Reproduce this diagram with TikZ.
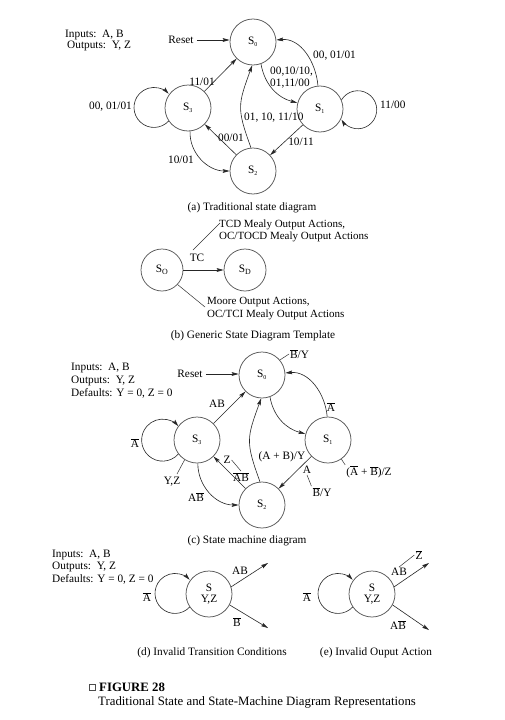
\documentclass[tikz,border=0pt]{standalone}
\usepackage{fontspec}
\setmainfont{Liberation Serif}
\usetikzlibrary{arrows.meta}
\newcommand{\olt}[1]{$\overline{\mbox{#1}}$}
\newcommand{\sst}[1]{S\textsubscript{\fontsize{6}{6}\selectfont#1}}
\begin{document}
\begin{tikzpicture}[x=1pt,y=1pt,
  every node/.style={font=\fontsize{11.3}{12.5}\selectfont, inner sep=1pt},
  st/.style={circle, draw=black!65, line width=0.75pt, minimum size=46pt, inner sep=0pt},
  sts/.style={st, minimum size=42pt},
  sv/.style={st, align=center, font=\fontsize{11.3}{11}\selectfont},
  arr/.style={draw=black!85, line width=0.6pt, -{Stealth[length=7pt,width=3.8pt,inset=1.3pt]}},
  ln/.style={draw=black!80, line width=0.5pt},
  two/.style={align=left, font=\fontsize{11.3}{11.5}\selectfont},
  blk/.style={align=left, font=\fontsize{11.3}{12.7}\selectfont},
]
\useasboundingbox (0,0) rectangle (504,-720);
\fill[white] (0,0) rectangle (504,-720);

% ---------------- (a) ----------------
\node[anchor=west] (inA) at (64,-35) {Inputs:\enspace A, B};
\node[anchor=west] (outA) at (66,-46) {Outputs:\enspace Y, Z};
\node[st] (s0a) at (253,-42) {\sst{0}};
\node[st] (s3a) at (188,-108) {\sst{3}};
\node[st] (s1a) at (320,-109) {\sst{1}};
\node[st] (s2a) at (253,-171) {\sst{2}};
\node[inner sep=3pt] (rsa) at (181,-40) {Reset};
\draw[arr] (rsa.east) -- (rsa.east -| s0a.west);
\draw[arr] (s1a.95) to[out=95,in=5] (s0a.5);
\node[anchor=west] (la1) at (312,-56) {00, 01/01};
\draw[arr] (s0a.-70) to[out=-80,in=165] (s1a.165);
\node[anchor=west,two] (la2) at (269,-77.5) {00,10/10,\\01,11/00};
\draw[arr] (s3a) -- (s0a);
\node (la3) at (202,-82) {11/01};
\draw[arr] (s2a.95) to[out=110,in=250,looseness=1.3] (s0a.268);
\node[anchor=west] (la4) at (243,-118) {01, 10, 11/10};
\draw[arr] (s2a) -- (s3a);
\node (la5) at (231,-138) {00/01};
\draw[arr] (s1a) -- (s2a);
\node (la6) at (301,-142) {10/11};
\draw[arr] (s3a.275) to[out=-92,in=180] (s2a.west);
\node (la7) at (181,-160) {10/01};
\draw[arr] (s3a.214) arc[start angle=-43,end angle=-317,radius=20];
\node[anchor=east] (la8) at (133,-107) {00, 01/01};
\draw[arr] (s1a.23) arc[start angle=148.7,end angle=-148.7,radius=19];
\node[anchor=west] (la9) at (379,-105) {11/00};
\node (capa) at (252,-208) {(a) Traditional state diagram};

% ---------------- (b) ----------------
\node[sts] (sob) at (162,-270) {S\textsubscript{O}};
\node[sts] (sdb) at (245,-270) {S\textsubscript{D}};
\draw[arr] (sob) -- (sdb);
\node (tcl) at (197,-258) {TC};
\coordinate (tc) at (193,-250);
\coordinate (mealyend) at (220,-223);
\node[anchor=west,align=left,font=\fontsize{11}{12}\selectfont] (mealy) at (218,-231) {TCD Mealy Output Actions,\\OC/TOCD Mealy Output Actions};
\draw[ln] (tc) -- (mealyend);
\coordinate (mooreend) at (205,-307);
\node[anchor=west,align=left,font=\fontsize{11}{13}\selectfont] (moore) at (206,-308.5) {Moore Output Actions,\\OC/TCI Mealy Output Actions};
\draw[ln] (sob.-43) -- (mooreend);
\node (capb) at (253,-336) {(b) Generic State Diagram Template};

% ---------------- (c) ----------------
\node[anchor=west,blk] (inC) at (70,-380.5) {Inputs:\enspace A, B\\Outputs:\enspace Y, Z\\Defaults: Y = 0, Z = 0};
\node[st] (s0c) at (262,-375) {\sst{0}};
\node[st] (s3c) at (197,-440) {\sst{3}};
\node[st] (s1c) at (328,-440) {\sst{1}};
\node[st] (s2c) at (262,-505) {\sst{2}};
\node[inner sep=3pt] (rsc) at (190,-374) {Reset};
\draw[arr] (rsc.east) -- (rsc.east -| s0c.west);
\node[anchor=west] (byc) at (289,-354) {\olt{B}/Y};
\draw[ln] (s0c.40) -- (byc.west);
\draw[arr] (s3c) -- (s0c);
\node (lc1) at (217,-404) {AB};
\draw[arr] (s1c.92) to[out=95,in=5] (s0c.5);
\node (lc2) at (331,-407) {\olt{A}};
\draw[arr] (s0c.-70) to[out=-80,in=165] (s1c.165);
\draw[arr] (s2c.95) to[out=110,in=250,looseness=1.3] (s0c.268);
\node (lc3) at (282,-457) {(A + B)/Y};
\draw[arr] (s2c) -- (s3c);
\node (zc) at (227,-460) {Z};
\node (abc) at (241,-477) {\olt{A}\olt{B}};
\draw[ln] (zc.east) -- (abc.north);
\draw[arr] (s1c) -- (s2c);
\node (ac) at (307,-470) {A};
\node (byc2) at (322,-492) {\olt{B}/Y};
\draw[ln] (ac.south) -- (byc2.north west);
\node (abz) at (369,-472) {(\olt{A} + \olt{B})/Z};
\draw[ln] (s1c.-55) -- (abz.north west);
\draw[arr] (s3c.217) arc[start angle=-41.6,end angle=-318.4,radius=21];
\node (lc4) at (135,-443) {\olt{A}};
\node (yzc) at (172,-482) {Y,Z};
\coordinate (yzt) at (177,-474);
\draw[ln] (s3c.238) -- (yzt);
\draw[arr] (s3c.272) to[out=-90,in=180] (s2c.west);
\node (lc5) at (196,-497) {A\olt{B}};
\node (capc) at (247,-541) {(c) State machine diagram};

% ---------------- (d) ----------------
\node[anchor=west,blk] (inD) at (51,-567) {Inputs:\enspace A, B\\Outputs:\enspace Y, Z\\Defaults: Y = 0, Z = 0};
\node[sv] (sdd) at (209,-594) {S\\Y,Z};
\draw[arr] (sdd.214) arc[start angle=-43,end angle=-317,radius=20];
\node (ld1) at (147,-597) {\olt{A}};
\coordinate (dab) at (268,-563);
\draw[arr] (sdd.18) -- (dab);
\node (ld2) at (240,-571) {AB};
\coordinate (dbb) at (268,-628);
\draw[arr] (sdd.-28) -- (dbb);
\node (ld3) at (237,-622) {\olt{B}};
\node (capd) at (212,-653) {(d) Invalid Transition Conditions};

% ---------------- (e) ----------------
\node[sv] (sde) at (372,-594) {S\\Y,Z};
\draw[arr] (sde.214) arc[start angle=-43,end angle=-317,radius=20];
\node (le1) at (307,-597) {\olt{A}};
\coordinate (eab) at (429,-563);
\draw[arr] (sde.18) -- (eab);
\node (eabl) at (399,-572) {AB};
\node (ezb) at (419,-555) {\olt{Z}};
\draw[ln] (eabl.north) -- (ezb.west);
\coordinate (ebb) at (429,-630);
\draw[arr] (sde.-28) -- (ebb);
\node (le2) at (398,-625) {A\olt{B}};
\node (cape) at (376,-653) {(e) Invalid Ouput Action};

% ---------------- caption ----------------
\node[draw=black!70, line width=0.5pt, minimum size=6.5pt, inner sep=0pt] (box) at (92,-687) {};
\node[anchor=west, font=\fontsize{12.8}{14}\selectfont\bfseries] (fig) at (98,-687) {FIGURE 28};
\node[anchor=west, font=\fontsize{12.8}{14}\selectfont] (figt) at (97,-702) {Traditional State and State-Machine Diagram Representations};
\end{tikzpicture}
\end{document}
